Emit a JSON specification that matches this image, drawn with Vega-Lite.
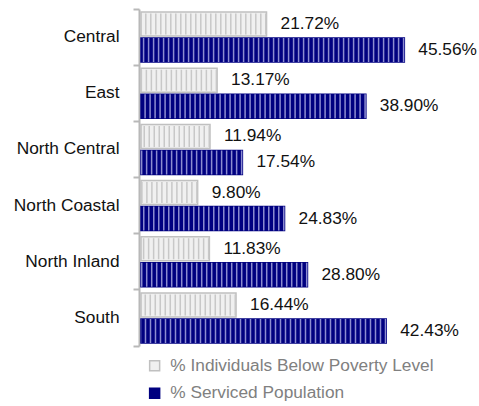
{
  "$schema": "https://vega.github.io/schema/vega-lite/v6.json",
  "width": 289,
  "height": 337,
  "autosize": {"type": "none"},
  "padding": {"left": 141, "top": 9, "right": 49, "bottom": 60},
  "background": "white",
  "config": {"view": {"stroke": null}, "font": "Liberation Sans"},
  "data": {
    "values": [
      {"region": "Central", "series": "% Individuals Below Poverty Level", "value": 0.2172},
      {"region": "Central", "series": "% Serviced Population", "value": 0.4556},
      {"region": "East", "series": "% Individuals Below Poverty Level", "value": 0.1317},
      {"region": "East", "series": "% Serviced Population", "value": 0.3890},
      {"region": "North Central", "series": "% Individuals Below Poverty Level", "value": 0.1194},
      {"region": "North Central", "series": "% Serviced Population", "value": 0.1754},
      {"region": "North Coastal", "series": "% Individuals Below Poverty Level", "value": 0.0980},
      {"region": "North Coastal", "series": "% Serviced Population", "value": 0.2483},
      {"region": "North Inland", "series": "% Individuals Below Poverty Level", "value": 0.1183},
      {"region": "North Inland", "series": "% Serviced Population", "value": 0.2880},
      {"region": "South", "series": "% Individuals Below Poverty Level", "value": 0.1644},
      {"region": "South", "series": "% Serviced Population", "value": 0.4243}
    ]
  },
  "encoding": {
    "y": {
      "field": "region", "type": "nominal", "sort": null,
      "scale": {"paddingInner": 0, "paddingOuter": 0},
      "axis": {
        "title": null, "labelFontSize": 17.3, "labelColor": "#111111", "labelFont": "Liberation Sans",
        "labelPadding": 14, "tickSize": 6, "tickWidth": 2, "domainWidth": 2,
        "domainColor": "#b8b8b8", "tickColor": "#b8b8b8", "bandPosition": 1, "tickExtra": true, "offset": 2
      }
    },
    "yOffset": {
      "field": "series", "type": "nominal", "sort": null,
      "scale": {"paddingInner": 0.077, "paddingOuter": 0.119}
    }
  },
  "layer": [
    {
      "mark": {"type": "bar", "strokeWidth": 1.5},
      "encoding": {
        "x": {"field": "value", "type": "quantitative", "scale": {"domain": [0, 0.5], "nice": false}, "axis": null},
        "fill": {
          "field": "series", "type": "nominal", "sort": null,
          "scale": {"range": ["#f0f0f0", "#000080"]},
          "legend": {
            "title": null, "orient": "none", "legendX": 5, "legendY": 348,
            "symbolType": "square", "symbolSize": 100, "symbolStrokeWidth": 1.5,
            "labelFontSize": 17.3, "labelColor": "#808080", "labelFont": "Liberation Sans",
            "labelOffset": 7, "rowPadding": 9.7, "labelLimit": 0
          }
        },
        "stroke": {
          "field": "series", "type": "nominal", "sort": null,
          "scale": {"range": ["#c0c0c0", "#000080"]}
        }
      }
    },
    {
      "mark": {"type": "rule", "strokeDash": [1.5, 3.5], "strokeCap": "butt"},
      "encoding": {
        "x": {"field": "value", "type": "quantitative"},
        "x2": {"datum": 0},
        "color": {
          "field": "series", "type": "nominal", "sort": null,
          "scale": {"range": ["#c8c8c8", "#8c8cd0"]}, "legend": null
        },
        "strokeWidth": {
          "field": "series", "type": "nominal", "sort": null,
          "scale": {"range": [21, 24]}, "legend": null
        }
      }
    },
    {
      "mark": {"type": "text", "align": "left", "baseline": "middle", "dx": 14, "fontSize": 17.3, "font": "Liberation Sans", "color": "#111111"},
      "encoding": {
        "x": {"field": "value", "type": "quantitative"},
        "text": {"field": "value", "type": "quantitative", "format": ".2%"}
      }
    }
  ]
}
